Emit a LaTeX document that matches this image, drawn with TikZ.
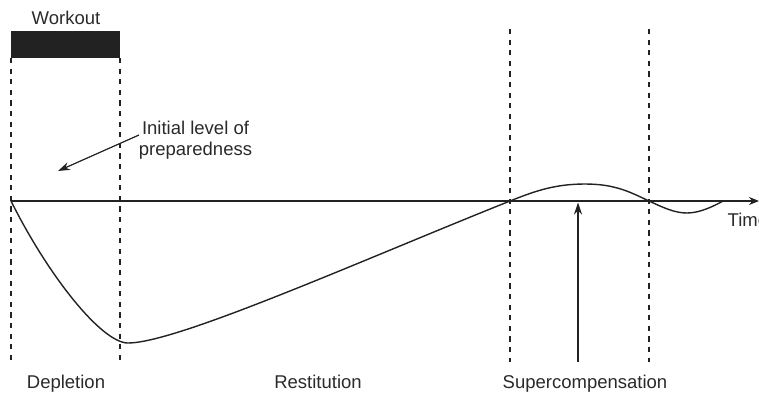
\documentclass[tikz,border=0pt]{standalone}
\usepackage{fontspec}
\setmainfont{Liberation Sans}
\usetikzlibrary{arrows.meta}
\definecolor{ink}{HTML}{222222}
\definecolor{txt}{HTML}{2A2A2A}
\tikzset{
  lbl/.style={inner sep=0pt, text=txt, font=\fontsize{18.5}{21.5}\selectfont},
  guide/.style={draw=ink, line width=1.1pt, dash pattern=on 5.2pt off 5.4pt},
  curveline/.style={draw=ink, line width=1.4pt},
  axisline/.style={draw=ink, line width=1.2pt, -{Stealth[length=10pt,width=8pt]}},
  pointer/.style={draw=ink, line width=1.2pt, -{Stealth[length=12pt,width=8pt]}}
}
\begin{document}
\begin{tikzpicture}[x=1pt,y=-1pt]
\useasboundingbox (0,0) rectangle (759,392);
% workout bar and label
\node[lbl, anchor=base] (wlabel) at (66,24) {Workout};
\node[fill=ink, draw=none, minimum width=109pt, minimum height=27pt, inner sep=0pt, anchor=north west] (bar) at (11,31) {};
% guide coordinates
\coordinate (g1t) at (11,58);  \coordinate (g1b) at (11,362);
\coordinate (g2t) at (120,58); \coordinate (g2b) at (120,362);
\coordinate (g3t) at (510,29); \coordinate (g3b) at (510,362);
\coordinate (g4t) at (649,29); \coordinate (g4b) at (649,362);
\draw[guide] (g1t) -- (g1b);
\draw[guide] (g2t) -- (g2b);
\draw[guide] (g3t) -- (g3b);
\draw[guide] (g4t) -- (g4b);
% axis
\coordinate (origin) at (11,201);
\coordinate (axend) at (759,201);
\draw[axisline] (origin) -- (axend);
\node[lbl, anchor=base west] (time) at (727.5,226) {Time};
% curve
\coordinate (cmin) at (128,343);
\coordinate (x1) at (510,201);
\coordinate (peak) at (585,184);
\coordinate (x2) at (649,201);
\coordinate (trough) at (687,213);
\coordinate (x3) at (723,201);
\draw[curveline] (origin) .. controls (49,277) and (102,343) .. (cmin)
  .. controls (177,343) and (360,261) .. (x1)
  .. controls (535,191) and (555,184) .. (peak)
  .. controls (615,184) and (630,192) .. (x2)
  .. controls (664,208) and (675,213) .. (trough)
  .. controls (700,213) and (714,206) .. (x3);
% initial level label and pointer
\node[lbl, align=center] (initial) at (195.5,140) {Initial level of\\preparedness};
\coordinate (ptail) at (139,135);
\coordinate (phead) at (58,171);
\draw[pointer] (ptail) -- (phead);
% supercompensation arrow
\coordinate (stail) at (578,362);
\coordinate (shead) at (578,202.5);
\draw[pointer] (stail) -- (shead);
% phase labels
\node[lbl, anchor=base] (depl) at (66,388) {Depletion};
\node[lbl, anchor=base] (rest) at (318,388) {Restitution};
\node[lbl, anchor=base] (super) at (585,388) {Supercompensation};
\end{tikzpicture}
\end{document}
